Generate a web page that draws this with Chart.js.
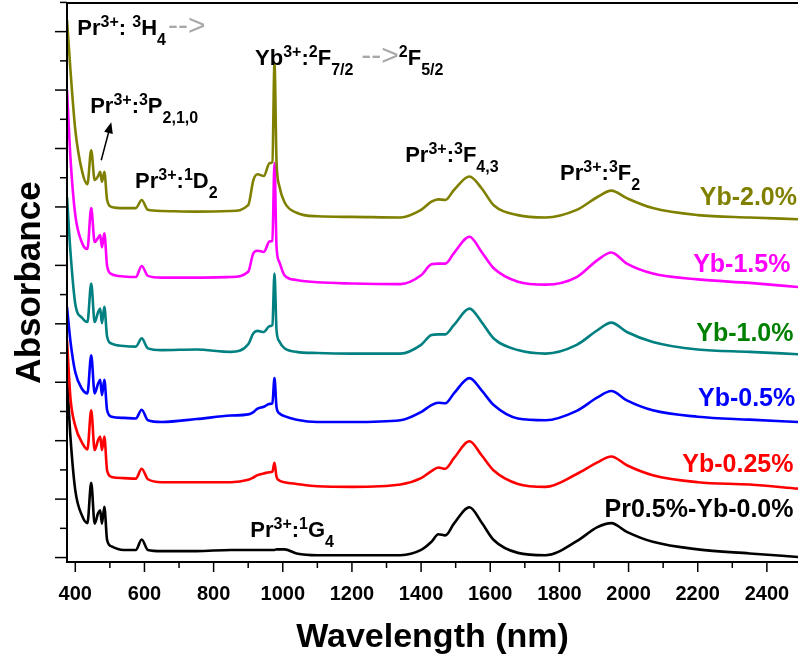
<!DOCTYPE html>
<html>
<head>
<meta charset="utf-8">
<script src="https://cdn.jsdelivr.net/npm/chart.js@4.4.1/dist/chart.umd.min.js"></script>
<style>
  html, body { margin: 0; padding: 0; background: #fff; }
</style>
</head>
<body>
<canvas id="chart" width="798" height="662"></canvas>
<script>
// wavelength grid (nm) shared by all spectra
const wavelengths = [376, 386, 400, 420, 435, 446, 456, 466, 472, 477, 484, 492, 505, 540, 575, 592, 610, 650, 750, 850,
  900, 915, 927, 945, 962, 970, 976, 982, 990, 1005, 1040, 1100, 1200, 1340, 1400, 1430, 1450, 1470, 1495, 1540,
  1575, 1610, 1680, 1760, 1850, 1910, 1950, 1995, 2070, 2200, 2350, 2490];

// absorbance (offset, arbitrary units)
const yb20 = [9.20, 8.34, 7.32, 6.60, 6.39, 6.97, 6.46, 6.53, 6.60, 6.43, 6.60, 6.12, 6.00, 5.98, 5.98, 6.12, 5.95, 5.93, 5.92, 5.93,
  6.03, 6.46, 6.56, 6.53, 6.75, 6.77, 8.46, 6.77, 6.36, 6.08, 5.90, 5.84, 5.83, 5.82, 5.95, 6.09, 6.13, 6.12, 6.29, 6.52,
  6.32, 6.03, 5.86, 5.82, 5.95, 6.17, 6.28, 6.15, 5.98, 5.86, 5.82, 5.79];
const yb15 = [8.00, 6.84, 5.86, 5.38, 5.28, 5.98, 5.40, 5.47, 5.52, 5.31, 5.55, 4.99, 4.85, 4.81, 4.80, 4.99, 4.82, 4.79, 4.79, 4.80,
  4.89, 5.21, 5.25, 5.23, 5.41, 5.42, 6.75, 5.31, 5.06, 4.83, 4.75, 4.71, 4.69, 4.68, 4.83, 5.02, 5.03, 5.03, 5.21, 5.49,
  5.23, 4.95, 4.72, 4.67, 4.80, 5.09, 5.22, 5.03, 4.86, 4.76, 4.70, 4.63];
const yb10 = [6.17, 5.23, 4.34, 4.10, 4.03, 4.69, 4.03, 4.20, 4.26, 4.01, 4.29, 3.78, 3.66, 3.62, 3.61, 3.75, 3.58, 3.55, 3.56, 3.52,
  3.65, 3.84, 3.88, 3.86, 3.96, 3.98, 4.86, 3.89, 3.70, 3.58, 3.52, 3.50, 3.49, 3.49, 3.64, 3.81, 3.82, 3.82, 3.98, 4.26,
  4.03, 3.75, 3.55, 3.49, 3.64, 3.89, 4.02, 3.86, 3.69, 3.56, 3.52, 3.48];
const yb05 = [4.29, 3.70, 3.17, 2.88, 2.81, 3.46, 2.81, 2.98, 3.04, 2.78, 3.04, 2.52, 2.41, 2.39, 2.38, 2.53, 2.35, 2.32, 2.37, 2.43,
  2.45, 2.49, 2.55, 2.58, 2.63, 2.64, 3.07, 2.57, 2.47, 2.42, 2.36, 2.32, 2.32, 2.35, 2.49, 2.61, 2.65, 2.64, 2.81, 3.07,
  2.86, 2.61, 2.38, 2.35, 2.51, 2.74, 2.85, 2.69, 2.52, 2.41, 2.36, 2.32];
const yb025 = [3.72, 2.73, 2.25, 1.96, 1.85, 2.52, 1.84, 2.01, 2.07, 1.84, 2.07, 1.49, 1.38, 1.36, 1.35, 1.52, 1.34, 1.29, 1.29, 1.29,
  1.33, 1.37, 1.41, 1.44, 1.46, 1.47, 1.62, 1.38, 1.32, 1.29, 1.26, 1.22, 1.21, 1.25, 1.36, 1.48, 1.54, 1.52, 1.70, 1.99,
  1.75, 1.49, 1.26, 1.21, 1.43, 1.63, 1.73, 1.58, 1.41, 1.29, 1.25, 1.18];
const yb00 = [3.09, 2.06, 1.15, 0.71, 0.59, 1.28, 0.58, 0.76, 0.81, 0.58, 0.87, 0.30, 0.19, 0.13, 0.13, 0.31, 0.13, 0.11, 0.11, 0.13,
  0.13, 0.13, 0.13, 0.13, 0.13, 0.13, 0.13, 0.14, 0.14, 0.14, 0.07, 0.04, 0.04, 0.04, 0.13, 0.27, 0.40, 0.38, 0.58, 0.86,
  0.60, 0.30, 0.08, 0.04, 0.28, 0.52, 0.59, 0.44, 0.27, 0.14, 0.07, 0.01];

const seriesNames = ['Yb-2.0%', 'Yb-1.5%', 'Yb-1.0%', 'Yb-0.5%', 'Yb-0.25%', 'Pr0.5%-Yb-0.0%'];
const seriesValues = [yb20, yb15, yb10, yb05, yb025, yb00];
const lineColors = ['#808000', '#ff00ff', '#008080', '#0000ff', '#ff0000', '#000000'];
const labelColors = ['#808000', '#ff00ff', '#008000', '#0000ff', '#ff0000', '#000000'];
// where each series name sits: [right edge nm, baseline value]
const labelAnchors = [[2487, 6.03], [2468, 4.89], [2477, 3.71], [2482, 2.59], [2477, 1.47], [2477, 0.70]];

const xTicks = [400, 600, 800, 1000, 1200, 1400, 1600, 1800, 2000, 2200, 2400];
const yTicks = [0, 1, 2, 3, 4, 5, 6, 7, 8, 9];

// transition labels: [nm, value, parts]
const transitions = [
  [406, 8.94, [['Pr'], ['3+', 'sup'], [': '], ['3', 'sup'], ['H'], ['4', 'sub'], ['-->', 'arrow', 2]]],
  [443, 7.60, [['Pr'], ['3+', 'sup'], [':'], ['3', 'sup'], ['P'], ['2,1,0', 'sub']]],
  [573, 6.32, [['Pr'], ['3+', 'sup'], [':'], ['1', 'sup'], ['D'], ['2', 'sub']]],
  [920, 8.43, [['Yb'], ['3+', 'sup'], [':'], ['2', 'sup'], ['F'], ['7/2', 'sub'], ['-->', 'arrow', 8], ['2', 'sup'], ['F'], ['5/2', 'sub']]],
  [1354, 6.77, [['Pr'], ['3+', 'sup'], [':'], ['3', 'sup'], ['F'], ['4,3', 'sub']]],
  [1802, 6.46, [['Pr'], ['3+', 'sup'], [':'], ['3', 'sup'], ['F'], ['2', 'sub']]],
  [906, 0.35, [['Pr'], ['3+', 'sup'], [':'], ['1', 'sup'], ['G'], ['4', 'sub']]]
];

const FONT = '"Liberation Sans", Arial, sans-serif';

function drawRich(ctx, x, y, parts) {
  ctx.textAlign = 'left';
  ctx.textBaseline = 'alphabetic';
  for (const [t, kind, gap] of parts) {
    let size = 22, dy = 0, weight = 'bold', color = '#000';
    if (kind === 'sup') { size = 16; dy = -8; }
    if (kind === 'sub') { size = 16; dy = 10; }
    if (kind === 'arrow') { size = 30; weight = 'normal'; color = '#a8a8a8'; }
    x += gap || 0;
    ctx.font = `${weight} ${size}px ${FONT}`;
    ctx.fillStyle = color;
    ctx.fillText(t, x, y + dy);
    x += ctx.measureText(t).width;
  }
}

const decorations = {
  id: 'decorations',
  afterDraw(chart) {
    const { ctx, chartArea: a, scales: { x, y } } = chart;
    ctx.save();
    ctx.strokeStyle = '#000';
    ctx.lineWidth = 2;
    ctx.beginPath();
    ctx.moveTo(a.right + 2, a.top);
    ctx.lineTo(a.left, a.top);
    ctx.lineTo(a.left, a.bottom);
    ctx.lineTo(a.right + 2, a.bottom);
    ctx.stroke();

    // x ticks, majors every 200 and minors between
    ctx.lineWidth = 1.5;
    for (let v = 400; v <= 2400; v += 100) {
      const px = x.getPixelForValue(v);
      const len = v % 200 === 0 ? 10 : 6;
      ctx.beginPath();
      ctx.moveTo(px, a.bottom);
      ctx.lineTo(px, a.bottom + len);
      ctx.stroke();
    }
    // y ticks, no labels
    for (let v = 0; v <= 9.5; v += 0.5) {
      const py = y.getPixelForValue(v);
      const len = v % 1 === 0 ? 12 : 7;
      ctx.beginPath();
      ctx.moveTo(a.left, py);
      ctx.lineTo(a.left - len, py);
      ctx.stroke();
    }

    ctx.fillStyle = '#000';
    ctx.font = `bold 20px ${FONT}`;
    ctx.textAlign = 'center';
    ctx.textBaseline = 'alphabetic';
    xTicks.forEach(v => ctx.fillText(String(v), x.getPixelForValue(v), 600));

    ctx.font = `bold 34px ${FONT}`;
    ctx.fillText('Wavelength (nm)', (a.left + a.right) / 2, 647);

    ctx.save();
    ctx.translate(40, (a.top + a.bottom) / 2);
    ctx.rotate(-Math.PI / 2);
    ctx.font = `bold 35px ${FONT}`;
    ctx.fillText('Absorbance', 0, 0);
    ctx.restore();

    // series names
    ctx.font = `bold 25px ${FONT}`;
    ctx.textAlign = 'right';
    seriesNames.forEach((name, i) => {
      ctx.fillStyle = labelColors[i];
      ctx.fillText(name, x.getPixelForValue(labelAnchors[i][0]), y.getPixelForValue(labelAnchors[i][1]));
    });

    transitions.forEach(([nm, v, parts]) => drawRich(ctx, x.getPixelForValue(nm), y.getPixelForValue(v), parts));

    // arrow pointing at the 3P peaks
    const x0 = x.getPixelForValue(475), y0 = y.getPixelForValue(6.80);
    const x1 = x.getPixelForValue(504), y1 = y.getPixelForValue(7.45);
    const ang = Math.atan2(y1 - y0, x1 - x0);
    ctx.strokeStyle = '#000';
    ctx.lineWidth = 1.5;
    ctx.beginPath();
    ctx.moveTo(x0, y0);
    ctx.lineTo(x1 - 8 * Math.cos(ang), y1 - 8 * Math.sin(ang));
    ctx.stroke();
    ctx.fillStyle = '#000';
    ctx.beginPath();
    ctx.moveTo(x1, y1);
    ctx.lineTo(x1 - 11 * Math.cos(ang) + 4.5 * Math.sin(ang), y1 - 11 * Math.sin(ang) - 4.5 * Math.cos(ang));
    ctx.lineTo(x1 - 11 * Math.cos(ang) - 4.5 * Math.sin(ang), y1 - 11 * Math.sin(ang) + 4.5 * Math.cos(ang));
    ctx.closePath();
    ctx.fill();
    ctx.restore();
  }
};

new Chart(document.getElementById('chart'), {
  type: 'line',
  data: {
    datasets: seriesNames.map((name, i) => ({
      label: name,
      data: wavelengths.map((w, j) => ({ x: w, y: seriesValues[i][j] })),
      borderColor: lineColors[i],
      borderWidth: 2.6,
      pointRadius: 0,
      fill: false,
      cubicInterpolationMode: 'monotone'
    }))
  },
  options: {
    responsive: false,
    animation: false,
    devicePixelRatio: 1,
    layout: { padding: { top: 3, left: 67, right: 0, bottom: 100 } },
    plugins: { legend: { display: false }, tooltip: { enabled: false } },
    scales: {
      x: { type: 'linear', min: 376, max: 2490, display: false },
      y: { type: 'linear', min: -0.076, max: 9.49, display: false }
    }
  },
  plugins: [decorations]
});
</script>
</body>
</html>
